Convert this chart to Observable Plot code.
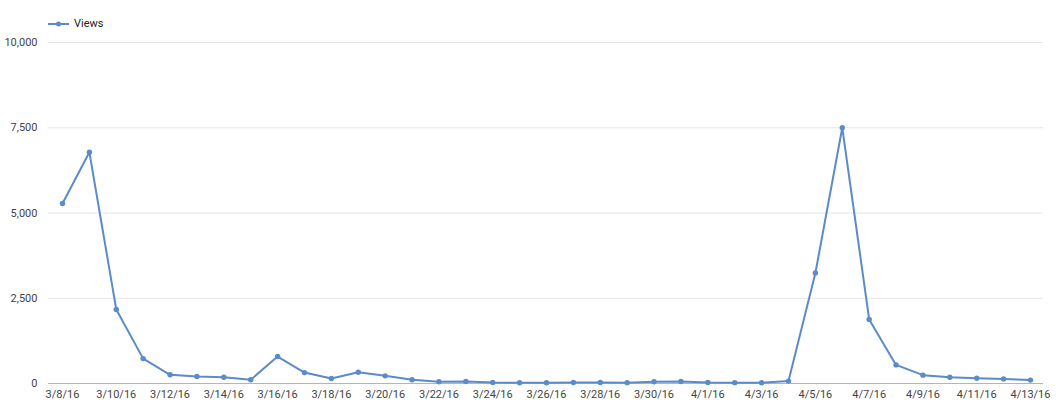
<!DOCTYPE html>
<html>
<head>
<meta charset="utf-8">
<script src="https://cdn.jsdelivr.net/npm/d3@7"></script>
<script src="https://cdn.jsdelivr.net/npm/@observablehq/plot@0.6"></script>
<style>
  html, body { margin: 0; padding: 0; background: #fff; }
  #wrap { position: relative; width: 1056px; height: 403px; font-family: Roboto, "Noto Sans", sans-serif; }
  #legend { position: absolute; left: 48px; top: 17px; display: flex; align-items: center; font-size: 11px; color: #222; }
  #legend svg { margin-right: 5px; }
  #chart { position: absolute; left: 0; top: 0; }
</style>
</head>
<body>
<div id="wrap">
  <div id="chart"></div>
  <div id="legend"></div>
</div>
<script>
const seriesName = "Views";
const dates = [
  "2016-03-08","2016-03-09","2016-03-10","2016-03-11","2016-03-12","2016-03-13","2016-03-14",
  "2016-03-15","2016-03-16","2016-03-17","2016-03-18","2016-03-19","2016-03-20","2016-03-21",
  "2016-03-22","2016-03-23","2016-03-24","2016-03-25","2016-03-26","2016-03-27","2016-03-28",
  "2016-03-29","2016-03-30","2016-03-31","2016-04-01","2016-04-02","2016-04-03","2016-04-04",
  "2016-04-05","2016-04-06","2016-04-07","2016-04-08","2016-04-09","2016-04-10","2016-04-11",
  "2016-04-12","2016-04-13"
];
const views = [
  5280, 6780, 2170, 730, 255, 205, 185,
  110, 790, 320, 145, 330, 225, 110,
  50, 60, 30, 20, 20, 30, 30,
  25, 50, 60, 30, 25, 20, 70,
  3240, 7500, 1880, 545, 245, 185, 155,
  135, 100
];
const yTicks = [0, 2500, 5000, 7500, 10000];
const xTickDates = dates.filter((d, i) => i % 2 === 0);

const color = "#5b8bc9";
const data = dates.map((d, i) => ({date: new Date(d + "T00:00:00Z"), value: views[i]}));

const fmtDate = d3.utcFormat("%-m/%-d/%y");
const chart = Plot.plot({
  width: 1056,
  height: 403,
  marginTop: 42,
  marginBottom: 20,
  marginLeft: 48,
  marginRight: 13,
  insetLeft: 14,
  insetRight: 13,
  style: {fontFamily: "Roboto, 'Noto Sans', sans-serif", fontSize: "11px", color: "#444", background: "#fff"},
  x: {
    type: "utc",
    domain: [data[0].date, data[data.length - 1].date],
    ticks: xTickDates.map(d => new Date(d + "T00:00:00Z")),
    tickFormat: fmtDate,
    tickSize: 0,
    tickPadding: 7,
    label: null
  },
  y: {
    domain: [0, 10000],
    ticks: yTicks,
    tickFormat: d3.format(","),
    tickSize: 0,
    tickPadding: 11,
    label: null
  },
  marks: [
    Plot.ruleY(yTicks.filter(t => t > 0), {stroke: "#e6e6e6", strokeWidth: 1}),
    Plot.ruleY([0], {stroke: "#b5b5b5", strokeWidth: 1}),
    Plot.axisX({tickSize: 0, tickPadding: 7, ticks: xTickDates.map(d => new Date(d + "T00:00:00Z")), tickFormat: fmtDate, label: null, fill: "#444"}),
    Plot.axisY({tickSize: 0, tickPadding: 11, ticks: yTicks, tickFormat: d3.format(","), label: null, fill: "#444"}),
    Plot.line(data, {x: "date", y: "value", stroke: color, strokeWidth: 2}),
    Plot.dot(data, {x: "date", y: "value", fill: color, r: 2.7})
  ]
});
document.getElementById("chart").appendChild(chart);

const legend = document.getElementById("legend");
legend.innerHTML = `<svg width="21" height="8"><line x1="0" y1="4" x2="21" y2="4" stroke="${color}" stroke-width="2"/><circle cx="10.5" cy="4" r="2.5" fill="${color}"/></svg><span></span>`;
legend.querySelector("span").textContent = seriesName;
</script>
</body>
</html>
